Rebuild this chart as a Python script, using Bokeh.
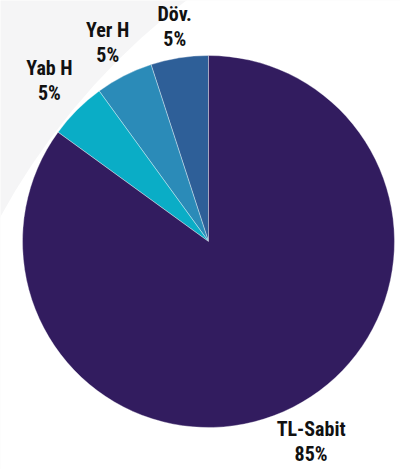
import numpy as np
from bokeh.plotting import figure
from bokeh.models import Range1d
from bokeh.core.properties import value
from bokeh.embed import file_html
from bokeh.resources import INLINE

# ---- data (anticlockwise from 12 o'clock) ----
labels = ["Döv.", "Yer H", "Yab H", "TL-Sabit"]
shares = [5, 5, 5, 85]
pct_labels = ["5%", "5%", "5%", "85%"]
colors = ["#2e5f98", "#2b8bb8", "#0aadc6", "#321c5f"]

# ---- layout (pixel-like data space) ----
W, H = 400, 469
cx, cy, R = 208, 228, 186
label_r = [216, 222, 225, 226]

p = figure(width=W, height=H, output_backend="svg", toolbar_location=None,
           x_range=Range1d(0, W), y_range=Range1d(0, H),
           min_border=0, background_fill_color="#f5f5f6")
p.axis.visible = False
p.grid.visible = False
p.outline_line_color = None

# decorative light background: big white disc leaving grey top-left corner
p.circle(x=[602], y=[-77], radius=686.5, fill_color="white", line_color=None)

vals = np.array(shares, dtype=float)
frac = vals / vals.sum()
ends = np.cumsum(frac) * 2 * np.pi
starts = np.concatenate([[0.0], ends[:-1]])
start_ang = np.pi / 2 + starts
end_ang = np.pi / 2 + ends

p.wedge(x=cx, y=cy, radius=R, start_angle=start_ang, end_angle=end_ang,
        fill_color=colors, line_color="white", line_width=0.6, line_alpha=0.6)

mid = (start_ang + end_ang) / 2
lr = np.array(label_r, dtype=float)
lx = cx + lr * np.cos(mid)
ly = cy + lr * np.sin(mid)

font = value("Roboto Condensed, Roboto")
for dy, txt in ((14, labels), (-11, pct_labels)):
    p.text(x=lx, y=ly + dy, text=txt, text_font=font, text_font_style="bold",
           text_font_size="20px", text_align="center", text_baseline="alphabetic",
           text_color="#111111")

open("out.html", "w").write(file_html(p, INLINE))
